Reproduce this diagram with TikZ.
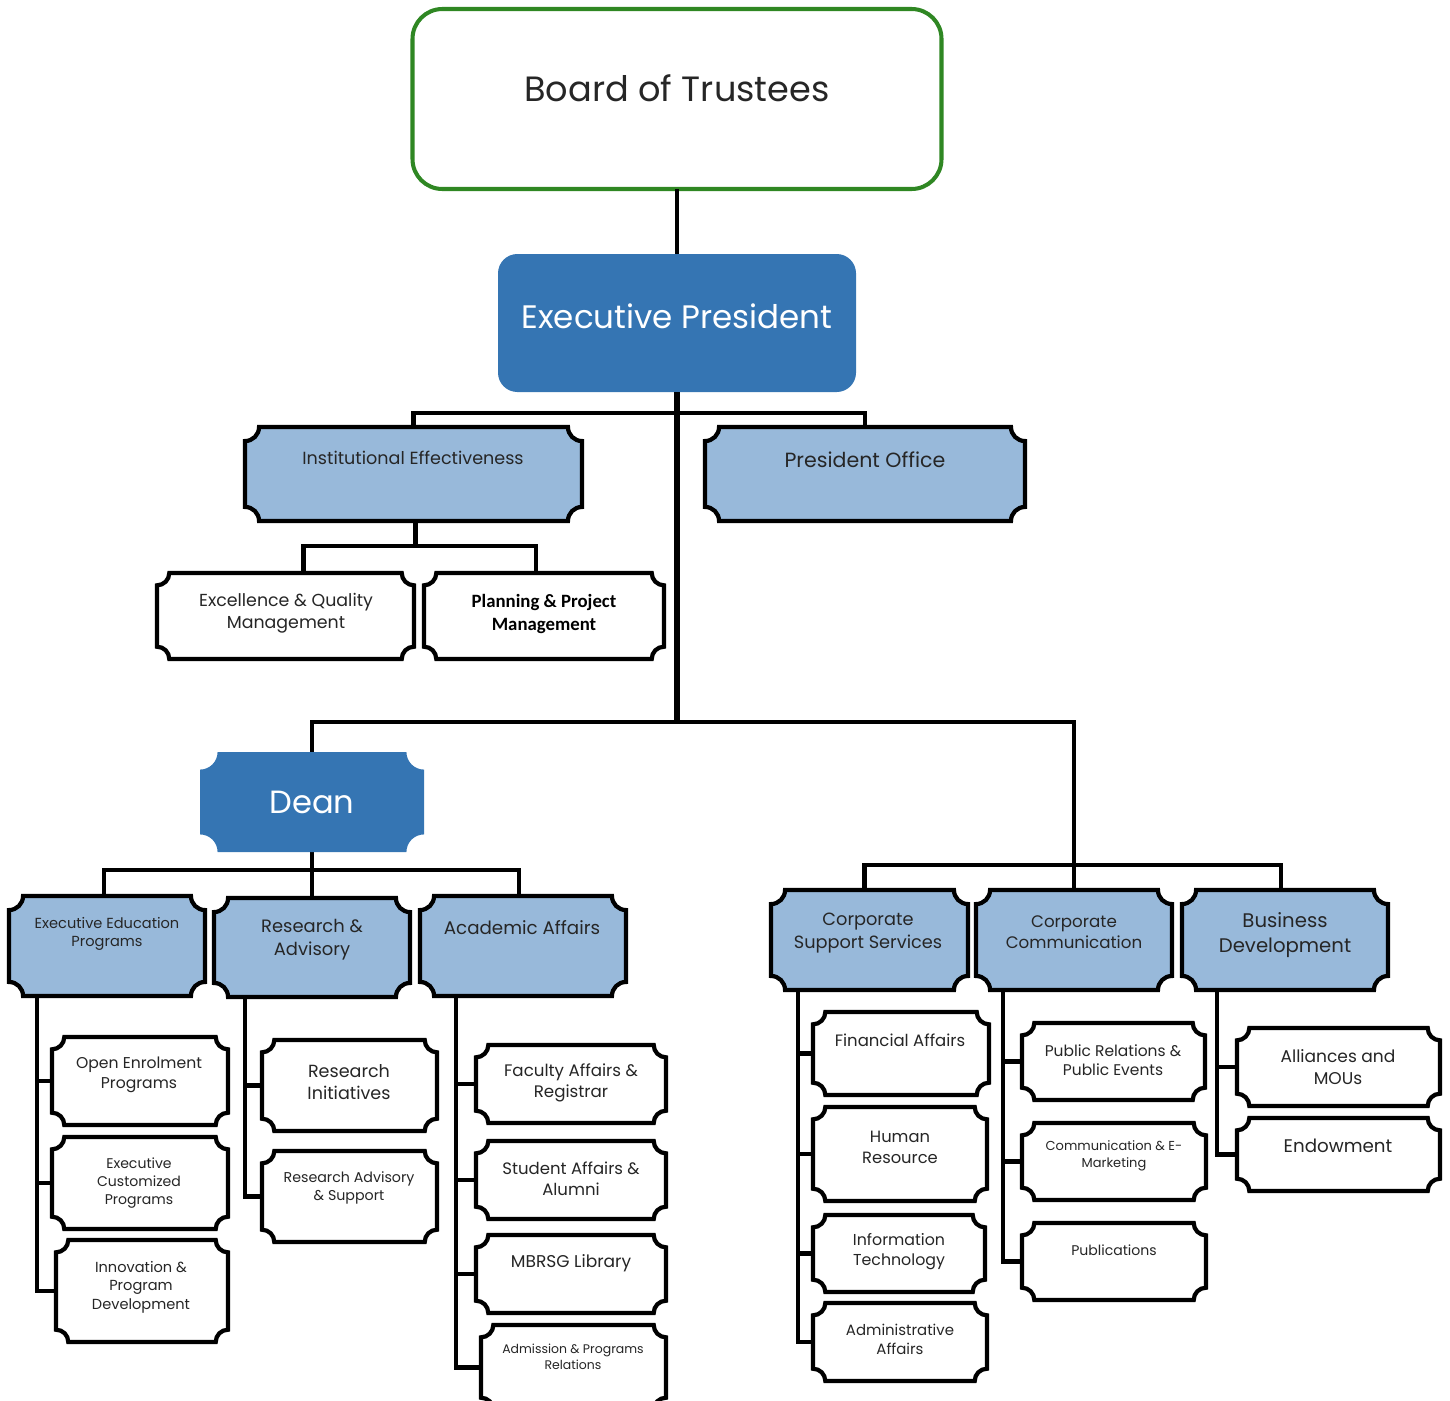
\documentclass[tikz,border=0pt]{standalone}
\usepackage{fontspec}
\setmainfont{Poppins}
\newfontfamily\calib{Carlito}
\usepackage{tikz}
\usetikzlibrary{calc}

\definecolor{dblue}{RGB}{53,117,179}
\definecolor{lblue}{RGB}{152,185,218}
\definecolor{bgreen}{RGB}{47,135,35}

% font size with its leading
\newcommand{\fsz}[1]{\fontsize{#1pt}{\dimexpr #1pt*127/100\relax}\selectfont}

% plaque outline with concave corners round a named node
\newcommand{\plq}[2]{($(#1.south west)+(#2,0pt)$) -- ($(#1.south east)+(-#2,0pt)$)
  arc[start angle=180,end angle=90,radius=#2] -- ($(#1.north east)+(0pt,-#2)$)
  arc[start angle=270,end angle=180,radius=#2] -- ($(#1.north west)+(#2,0pt)$)
  arc[start angle=0,end angle=-90,radius=#2] -- ($(#1.south west)+(0pt,#2)$)
  arc[start angle=90,end angle=0,radius=#2] -- cycle}

\tikzset{
  x=0.02cm, y=-0.02cm,
  boxsz/.style 2 args={minimum width=#1*0.02cm, minimum height=#2*0.02cm, inner sep=0pt, outer sep=0pt},
  conn/.style={line width=2.8pt},
  trunk/.style={line width=3.8pt},
  plqlb/.style={line width=2.4pt, fill=lblue},
  plqw/.style={line width=2.4pt, fill=white},
  plqdb/.style={fill=dblue},
  t/.style={align=center, inner sep=0pt, text=black!85},
}

\begin{document}
\begin{tikzpicture}
    \useasboundingbox (0,0) rectangle (1450,1400);
    %BOXES
    \node[boxsz={529}{180}, draw=bgreen, line width=2.3pt, rounded corners=17pt] (bot) at (677,99) {};
    \node[boxsz={358}{138}, fill=dblue, rounded corners=11pt] (ep) at (677,323) {};
    \node[boxsz={337}{94}] (ie) at (413.5,474) {};
    \node[boxsz={320}{94}] (po) at (865,474) {};
    \node[boxsz={257}{86}] (eqm) at (285.5,616) {};
    \node[boxsz={240}{86}] (ppm) at (544,616) {};
    \node[boxsz={224}{100}] (dean) at (312,802) {};
    \node[boxsz={196}{100}] (eep) at (107,946) {};
    \node[boxsz={196}{99}] (ra) at (312,947.5) {};
    \node[boxsz={206}{100}] (aa) at (523,946) {};
    \node[boxsz={197}{100}] (css) at (869.5,940) {};
    \node[boxsz={196}{100}] (cc) at (1074,940) {};
    \node[boxsz={206}{100}] (bd) at (1285,940) {};
    \node[boxsz={176}{88}] (oep) at (140,1081) {};
    \node[boxsz={176}{92}] (ecp) at (140,1183) {};
    \node[boxsz={172}{102}] (ipd) at (142,1291) {};
    \node[boxsz={175}{91}] (ri) at (349.5,1085.5) {};
    \node[boxsz={175}{91}] (ras) at (349.5,1196.5) {};
    \node[boxsz={190}{78}] (far) at (571,1084) {};
    \node[boxsz={190}{78}] (saa) at (571,1180) {};
    \node[boxsz={190}{78}] (lib) at (571,1274) {};
    \node[boxsz={185}{85}] (adm) at (573.5,1367.5) {};
    \node[boxsz={176}{83}] (fa) at (901,1053.5) {};
    \node[boxsz={174}{94}] (hr) at (900,1154) {};
    \node[boxsz={172}{77}] (it) at (899,1253.5) {};
    \node[boxsz={174}{78}] (ada) at (900,1342) {};
    \node[boxsz={183}{77}] (pr) at (1113.5,1061.5) {};
    \node[boxsz={184}{77}] (cem) at (1114,1161.5) {};
    \node[boxsz={184}{77}] (pub) at (1114,1261.5) {};
    \node[boxsz={203}{78}] (am) at (1338.5,1067) {};
    \node[boxsz={203}{73}] (end) at (1338.5,1154.5) {};
    %JOINTS
    \coordinate (jp) at (677,413);
    \coordinate (jd) at (677,722);
    \coordinate (ji) at ($(ie.south)+(2,25)$);
    \coordinate (jl) at (313,870);
    \coordinate (jr) at (1074,865);
    \coordinate (b1) at ($(eep.south west)+(28,0)$);
    \coordinate (b2) at ($(ra.south west)+(31,0)$);
    \coordinate (b3) at ($(aa.south west)+(36,0)$);
    \coordinate (b4) at ($(css.south west)+(27,0)$);
    \coordinate (b5) at ($(cc.south west)+(27,0)$);
    \coordinate (b6) at ($(bd.south west)+(35,0)$);
    %LINES
    \draw[conn] (bot.south) -- (ep.north);
    \draw[trunk] (ep.south) -- (jd);
    \draw[conn] (ie.north) |- (jp) -| (po.north);
    \draw[conn] (ie.south -| ji) -- (ji);
    \draw[conn] ($(eqm.north)+(18,0)$) |- (ji) -| ($(ppm.north)+(-8,0)$);
    \draw[conn] (dean.north) |- (jd) -| (cc.north);
    \draw[conn] ($(css.north)+(-5,0)$) |- (jr) -| ($(bd.north)+(-4,0)$);
    \draw[conn] (dean.south) -- (ra.north);
    \draw[conn] ($(eep.north)+(-3,0)$) |- (jl) -| ($(aa.north)+(-4,0)$);
    \foreach \c in {oep,ecp,ipd} \draw[conn] (b1) |- (\c.west);
    \foreach \c in {ri,ras} \draw[conn] (b2) |- (\c.west);
    \foreach \c in {far,saa,lib,adm} \draw[conn] (b3) |- (\c.west);
    \foreach \c in {fa,hr,it,ada} \draw[conn] (b4) |- (\c.west);
    \foreach \c in {pr,cem,pub} \draw[conn] (b5) |- (\c.west);
    \foreach \c in {am,end} \draw[conn] (b6) |- (\c.west);
    %PLAQUES
    \foreach \n in {ie,po,eep,ra,aa,css,cc,bd} \draw[plqlb] \plq{\n}{8pt};
    \foreach \n in {eqm,ppm,oep,ecp,ipd,ri,ras,far,saa,lib,adm,fa,hr,it,ada,pr,cem,pub,am,end} \draw[plqw] \plq{\n}{7pt};
    \fill[plqdb] \plq{dean}{10pt};
    %TEXTS
    \node[t, font=\fsz{20}] (bot-t) at (677,88) {Board of Trustees};
    \node[t, text=white, font=\fsz{18.5}] (ep-t) at (677,316) {Executive President};
    \node[t, font=\fsz{10}] (ie-t) at (413,458) {Institutional Effectiveness};
    \node[t, font=\fsz{11.7}] (po-t) at (865,460) {President Office};
    \node[t, font=\fsz{9.9}] (eqm-t) at (286,613) {Excellence \& Quality\\Management};
    \node[t, text=black, font=\calib\bfseries\fontsize{10.7}{13}\selectfont] (ppm-t) at (544,614) {Planning \& Project\\Management};
    \node[t, text=white, font=\fsz{18.3}] (dean-t) at (312,802) {Dean};
    \node[t, font=\fsz{8.3}] (eep-t) at (107,934) {Executive Education\\Programs};
    \node[t, font=\fsz{10.2}] (ra-t) at (312,940) {Research \&\\Advisory};
    \node[t, font=\fsz{10.4}] (aa-t) at (522,928) {Academic Affairs};
    \node[t, font=\fsz{10.1}] (css-t) at (868,933) {Corporate\\Support Services};
    \node[t, font=\fsz{9.5}] (cc-t) at (1074,932) {Corporate\\Communication};
    \node[t, font=\fsz{11.2}] (bd-t) at (1285,935) {Business\\Development};
    \node[t, font=\fsz{8.9}] (oep-t) at (139,1075) {Open Enrolment\\Programs};
    \node[t, font=\fsz{8}] (ecp-t) at (139,1183) {Executive\\Customized\\Programs};
    \node[t, font=\fsz{8.3}] (ipd-t) at (141,1287) {Innovation \&\\Program\\Development};
    \node[t, font=\fsz{10}] (ri-t) at (349,1082) {Research\\Initiatives};
    \node[t, font=\fsz{8.1}] (ras-t) at (349,1188) {Research Advisory\\\& Support};
    \node[t, font=\fsz{9.5}] (far-t) at (571,1083) {Faculty Affairs \&\\Registrar};
    \node[t, font=\fsz{9.4}] (saa-t) at (571,1179) {Student Affairs \&\\Alumni};
    \node[t, font=\fsz{9.7}] (lib-t) at (571,1263) {MBRSG Library};
    \node[t, font=\fsz{7.1}] (adm-t) at (573,1357) {Admission \& Programs\\Relations};
    \node[t, font=\fsz{9.4}] (fa-t) at (900,1040) {Financial Affairs};
    \node[t, font=\fsz{9.3}] (hr-t) at (900,1147) {Human\\Resource};
    \node[t, font=\fsz{9}] (it-t) at (899,1252) {Information\\Technology};
    \node[t, font=\fsz{8.5}] (ada-t) at (900,1339) {Administrative\\Affairs};
    \node[t, font=\fsz{8.8}] (pr-t) at (1113,1060) {Public Relations \&\\Public Events};
    \node[t, font=\fsz{7.4}] (cem-t) at (1114,1156) {Communication \& E-\\Marketing};
    \node[t, font=\fsz{8}] (pub-t) at (1114,1250) {Publications};
    \node[t, font=\fsz{9.7}] (am-t) at (1338,1067) {Alliances and\\MOUs};
    \node[t, font=\fsz{10.4}] (end-t) at (1338,1146) {Endowment};
\end{tikzpicture}
\end{document}
